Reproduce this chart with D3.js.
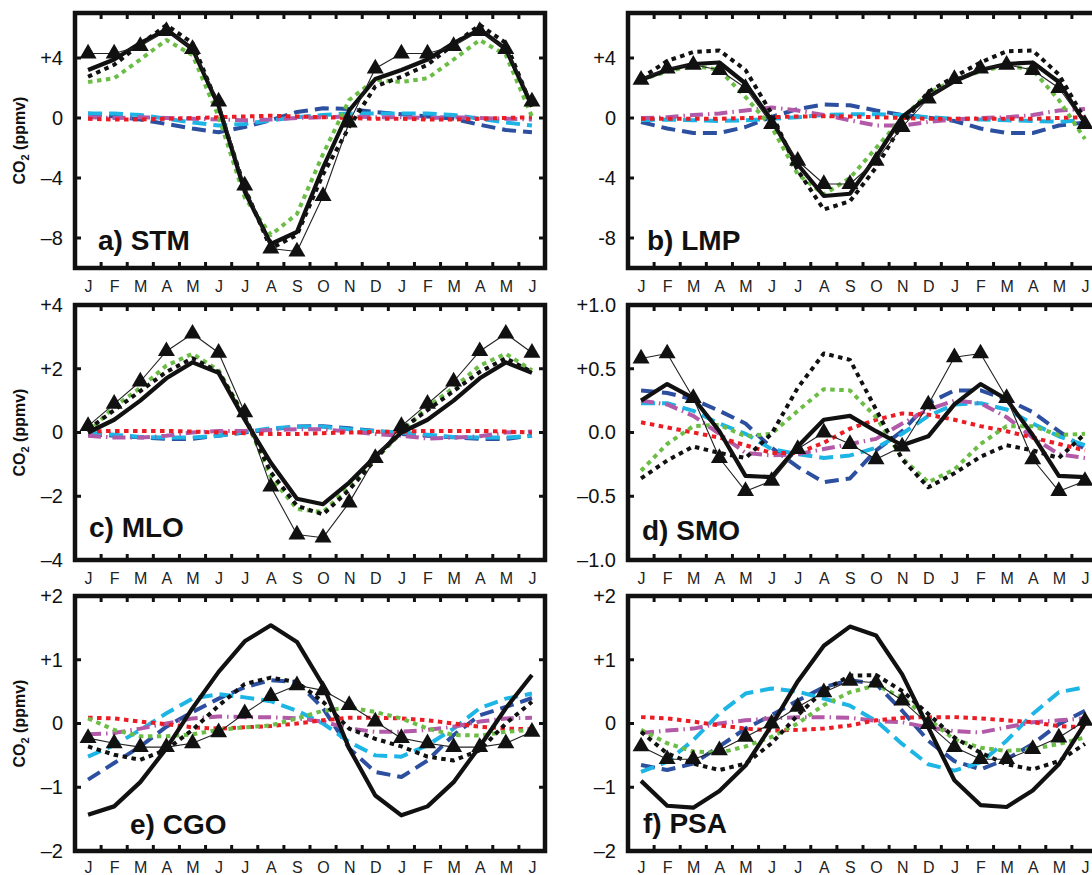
<!DOCTYPE html>
<html><head><meta charset="utf-8">
<script src="https://cdn.jsdelivr.net/npm/d3@7"></script>
<style>body{margin:0;background:#fff;overflow:hidden}</style>
</head><body>
<svg id="c" width="1092" height="875"></svg>
<script>
// ---------- categories ----------
const months = ["J","F","M","A","M","J","J","A","S","O","N","D","J","F","M","A","M","J"];

// ---------- a) STM ----------
const stmObs     = [4.3,4.3,4.8,5.8,4.6,1.1,-4.5,-8.7,-8.9,-5.2,-0.3,3.3,4.3,4.3,4.8,5.8,4.6,1.1];
const stmSolid   = [3.2,3.9,5.0,5.9,4.6,0.8,-4.9,-8.4,-7.6,-3.3,0.5,2.6,3.2,3.9,5.0,5.9,4.6,0.8];
const stmDotted  = [2.75,3.55,4.9,6.2,5.0,0.75,-4.65,-8.7,-7.8,-3.75,-0.6,2.1,2.75,3.55,4.9,6.2,5.0,0.75];
const stmGreen   = [2.4,2.65,3.9,5.2,4.2,0.1,-5.3,-7.8,-6.4,-2.4,1.2,2.55,2.4,2.65,3.9,5.2,4.2,0.1];
const stmBlue    = [0.3,0.1,-0.1,-0.4,-0.7,-0.95,-0.6,-0.15,0.4,0.65,0.6,0.4,0.25,0.1,-0.05,-0.45,-0.8,-0.95];
const stmCyan    = [0.3,0.3,0.2,-0.05,-0.3,-0.5,-0.4,-0.15,0.05,0.2,0.3,0.3,0.3,0.3,0.2,-0.05,-0.3,-0.5];
const stmMagenta = [0.05,0.0,0.05,0.0,-0.05,-0.1,-0.15,-0.1,0.0,0.05,0.1,0.05,0.05,0.0,0.05,0.0,-0.05,-0.1];
const stmRed     = [-0.05,-0.1,-0.1,-0.05,0.0,0.05,0.1,0.15,0.1,0.05,0.0,-0.05,-0.05,-0.1,-0.1,-0.05,0.0,0.05];

// ---------- b) LMP ----------
const lmpObs     = [2.55,3.3,3.55,3.2,2.0,-0.4,-2.85,-4.4,-4.4,-2.85,-0.6,1.3,2.6,3.3,3.55,3.2,2.0,-0.4];
const lmpSolid   = [2.55,3.2,3.6,3.7,2.3,-0.15,-3.1,-5.2,-5.05,-2.6,0.07,1.4,2.45,3.2,3.6,3.7,2.4,-0.35];
const lmpDotted  = [2.65,3.8,4.4,4.5,3.2,0.3,-3.5,-6.1,-5.55,-3.3,-0.4,1.75,2.75,3.7,4.45,4.5,2.9,-0.1];
const lmpGreen   = [2.55,3.1,3.5,3.2,1.4,-0.6,-3.75,-5.1,-4.0,-2.0,0.0,1.65,2.55,3.1,3.5,3.2,1.2,-1.4];
const lmpBlue    = [-0.27,-0.7,-1.0,-1.0,-0.6,0.07,0.6,0.9,0.85,0.5,0.2,0.02,-0.2,-0.7,-1.0,-1.0,-0.5,-0.3];
const lmpCyan    = [-0.15,-0.1,-0.15,-0.2,-0.15,-0.05,0.05,0.2,0.25,0.25,0.2,0.05,-0.05,-0.1,-0.15,-0.2,-0.25,-0.15];
const lmpMagenta = [0.0,0.05,0.2,0.3,0.5,0.7,0.5,0.2,-0.15,-0.5,-0.5,-0.27,-0.1,0.0,0.05,0.2,0.5,0.6];
const lmpRed     = [-0.05,-0.05,-0.05,-0.05,0.0,0.05,0.1,0.12,0.1,0.05,0.0,-0.05,-0.05,-0.05,-0.05,-0.05,0.0,0.05];

// ---------- c) MLO ----------
const mloObs     = [0.2,0.9,1.6,2.55,3.1,2.5,0.63,-1.7,-3.2,-3.3,-2.2,-0.8,0.2,0.9,1.6,2.55,3.1,2.5];
const mloSolid   = [0.0,0.4,1.0,1.7,2.2,1.87,0.4,-0.95,-2.08,-2.25,-1.57,-0.75,0.0,0.4,1.0,1.7,2.2,1.87];
const mloDotted  = [0.1,0.7,1.3,1.9,2.33,1.9,0.5,-1.25,-2.3,-2.57,-1.8,-0.85,0.1,0.7,1.3,1.9,2.33,1.9];
const mloGreen   = [0.0,0.8,1.4,2.1,2.47,1.95,0.5,-1.4,-2.4,-2.5,-1.7,-0.85,0.0,0.8,1.4,2.1,2.47,1.95];
const mloBlue    = [-0.05,-0.1,-0.15,-0.2,-0.2,-0.1,0.0,0.1,0.19,0.2,0.13,0.05,-0.05,-0.1,-0.15,-0.2,-0.2,-0.1];
const mloCyan    = [0.0,-0.07,-0.14,-0.16,-0.16,-0.1,0.02,0.13,0.18,0.18,0.1,0.04,0.0,-0.07,-0.14,-0.16,-0.16,-0.1];
const mloMagenta = [-0.1,-0.16,-0.16,-0.1,0.0,0.05,0.05,0.08,0.1,0.1,0.03,-0.05,-0.1,-0.19,-0.16,-0.12,0.0,0.03];
const mloRed     = [0.03,0.05,0.05,0.05,0.03,0.0,-0.02,-0.05,-0.05,-0.02,0.0,0.02,0.03,0.05,0.05,0.05,0.03,0.0];

// ---------- d) SMO ----------
const smoObs     = [0.58,0.62,0.27,-0.2,-0.46,-0.38,-0.13,0.0,-0.09,-0.21,-0.11,0.22,0.59,0.62,0.27,-0.21,-0.46,-0.38];
const smoSolid   = [0.25,0.38,0.27,0.01,-0.34,-0.35,-0.11,0.1,0.13,0.01,-0.1,-0.03,0.22,0.38,0.26,-0.02,-0.34,-0.35];
const smoDotted  = [-0.36,-0.22,-0.11,-0.16,-0.2,-0.01,0.35,0.62,0.57,0.18,-0.21,-0.43,-0.32,-0.19,-0.1,-0.14,-0.2,-0.01];
const smoGreen   = [-0.3,-0.09,0.05,0.06,-0.03,-0.01,0.17,0.34,0.33,0.12,-0.2,-0.39,-0.29,-0.09,0.05,0.05,-0.02,-0.01];
const smoBlue    = [0.33,0.31,0.26,0.17,0.07,-0.12,-0.27,-0.39,-0.36,-0.14,0.01,0.23,0.33,0.33,0.26,0.16,0.01,-0.13];
const smoCyan    = [0.23,0.23,0.17,0.07,-0.01,-0.13,-0.17,-0.2,-0.18,-0.12,-0.01,0.13,0.22,0.23,0.18,0.07,-0.03,-0.1];
const smoMagenta = [0.25,0.22,0.13,-0.01,-0.16,-0.18,-0.17,-0.13,-0.09,-0.05,0.07,0.18,0.25,0.23,0.12,-0.04,-0.17,-0.2];
const smoRed     = [0.08,0.04,0.0,-0.04,-0.1,-0.16,-0.16,-0.08,0.03,0.1,0.15,0.14,0.1,0.05,0.01,-0.04,-0.09,-0.14];

// ---------- e) CGO ----------
const cgoObs     = [-0.23,-0.31,-0.37,-0.37,-0.31,-0.14,0.16,0.43,0.6,0.52,0.29,0.03,-0.23,-0.31,-0.37,-0.37,-0.31,-0.13];
const cgoSolid   = [-1.43,-1.3,-0.92,-0.39,0.24,0.81,1.29,1.54,1.28,0.6,-0.39,-1.13,-1.44,-1.3,-0.92,-0.36,0.24,0.76];
const cgoDotted  = [-0.36,-0.49,-0.57,-0.41,-0.1,0.28,0.62,0.72,0.65,0.34,-0.08,-0.24,-0.36,-0.52,-0.58,-0.42,0.0,0.34];
const cgoGreen   = [0.08,-0.1,-0.2,-0.2,-0.17,-0.1,-0.06,-0.03,0.08,0.2,0.25,0.18,0.08,-0.08,-0.18,-0.19,-0.13,-0.1];
const cgoBlue    = [-0.88,-0.62,-0.36,-0.05,0.18,0.39,0.57,0.68,0.65,0.24,-0.39,-0.76,-0.84,-0.58,-0.18,0.13,0.26,0.4];
const cgoCyan    = [-0.52,-0.34,-0.1,0.16,0.39,0.46,0.41,0.35,0.2,0.0,-0.29,-0.5,-0.52,-0.34,-0.08,0.24,0.39,0.47];
const cgoMagenta = [-0.17,-0.15,-0.08,0.0,0.08,0.11,0.1,0.1,0.08,0.03,-0.08,-0.13,-0.13,-0.1,-0.05,0.03,0.08,0.09];
const cgoRed     = [0.09,0.08,0.03,-0.01,-0.06,-0.08,-0.06,-0.04,0.0,0.05,0.09,0.09,0.08,0.05,0.0,-0.05,-0.08,-0.09];

// ---------- f) PSA ----------
const psaObs     = [-0.36,-0.56,-0.56,-0.42,-0.21,0.0,0.26,0.49,0.67,0.64,0.36,-0.01,-0.37,-0.56,-0.56,-0.4,-0.22,0.04];
const psaSolid   = [-0.9,-1.29,-1.32,-1.06,-0.66,-0.03,0.66,1.22,1.52,1.38,0.77,-0.06,-0.89,-1.28,-1.31,-1.05,-0.64,0.0];
const psaDotted  = [-0.13,-0.47,-0.63,-0.73,-0.63,-0.31,0.13,0.52,0.75,0.76,0.51,0.15,-0.22,-0.46,-0.64,-0.72,-0.59,-0.32];
const psaGreen   = [-0.1,-0.31,-0.44,-0.46,-0.36,-0.21,0.0,0.29,0.49,0.6,0.41,0.07,-0.25,-0.38,-0.43,-0.4,-0.32,-0.22];
const psaBlue    = [-0.65,-0.73,-0.63,-0.36,-0.08,0.13,0.36,0.57,0.68,0.62,0.2,-0.27,-0.59,-0.72,-0.56,-0.32,-0.01,0.2];
const psaCyan    = [-0.76,-0.6,-0.26,0.16,0.47,0.55,0.5,0.39,0.28,0.04,-0.32,-0.64,-0.74,-0.61,-0.27,0.15,0.49,0.57];
const psaMagenta = [-0.15,-0.11,-0.08,0.0,0.05,0.08,0.1,0.1,0.09,0.04,0.02,-0.06,-0.12,-0.14,-0.06,0.02,0.05,0.08];
const psaRed     = [0.1,0.08,0.03,-0.03,-0.08,-0.11,-0.1,-0.08,-0.03,0.05,0.09,0.1,0.1,0.08,0.05,0.02,-0.04,-0.06];

// ---------- tick values / labels ----------
const stmTicks = [4,0,-4,-8],        stmTickLabels = ["+4","0","\u20134","\u20138"];
const lmpTicks = [4,0,-4,-8],        lmpTickLabels = ["+4","0","-4","-8"];
const mloTicks = [4,2,0,-2,-4],      mloTickLabels = ["+4","+2","0","\u20132","\u20134"];
const smoTicks = [1,0.5,0,-0.5,-1],  smoTickLabels = ["+1.0","+0.5","0.0","\u20130.5","\u20131.0"];
const cgoTicks = [2,1,0,-1,-2],      cgoTickLabels = ["+2","+1","0","\u20131","\u20132"];
const psaTicks = [2,1,0,-1,-2],      psaTickLabels = ["+2","+1","0","\u20131","\u20132"];

// ---------- layout & styles ----------
const W = 470, H = 255;
const colX = [75, 628], rowY = [13, 305, 596];
const FONT = "'Liberation Sans', Arial, Helvetica, sans-serif";

const panels = [
  {title:"a) STM", col:0,row:0, dom:[-10,7], ticks:stmTicks, labels:stmTickLabels, ylab:true, tx:23, ty:237,
   s:{obs:stmObs,solid:stmSolid,dotted:stmDotted,green:stmGreen,blue:stmBlue,cyan:stmCyan,magenta:stmMagenta,red:stmRed}},
  {title:"b) LMP", col:1,row:0, dom:[-10,7], ticks:lmpTicks, labels:lmpTickLabels, ylab:false, tx:19, ty:237,
   s:{obs:lmpObs,solid:lmpSolid,dotted:lmpDotted,green:lmpGreen,blue:lmpBlue,cyan:lmpCyan,magenta:lmpMagenta,red:lmpRed}},
  {title:"c) MLO", col:0,row:1, dom:[-4,4], ticks:mloTicks, labels:mloTickLabels, ylab:true, tx:14, ty:232,
   s:{obs:mloObs,solid:mloSolid,dotted:mloDotted,green:mloGreen,blue:mloBlue,cyan:mloCyan,magenta:mloMagenta,red:mloRed}},
  {title:"d) SMO", col:1,row:1, dom:[-1,1], ticks:smoTicks, labels:smoTickLabels, ylab:false, tx:14, ty:235,
   s:{obs:smoObs,solid:smoSolid,dotted:smoDotted,green:smoGreen,blue:smoBlue,cyan:smoCyan,magenta:smoMagenta,red:smoRed}},
  {title:"e) CGO", col:0,row:2, dom:[-2,2], ticks:cgoTicks, labels:cgoTickLabels, ylab:true, tx:55, ty:238,
   s:{obs:cgoObs,solid:cgoSolid,dotted:cgoDotted,green:cgoGreen,blue:cgoBlue,cyan:cgoCyan,magenta:cgoMagenta,red:cgoRed}},
  {title:"f) PSA", col:1,row:2, dom:[-2,2], ticks:psaTicks, labels:psaTickLabels, ylab:false, tx:15, ty:237,
   s:{obs:psaObs,solid:psaSolid,dotted:psaDotted,green:psaGreen,blue:psaBlue,cyan:psaCyan,magenta:psaMagenta,red:psaRed}}
];

const styles = [
  {key:"blue",    color:"#2c4f9f", w:4,   dash:"14,7"},
  {key:"cyan",    color:"#1db5e5", w:4,   dash:"14,7"},
  {key:"magenta", color:"#b25aa8", w:4,   dash:"13,5,1.5,5"},
  {key:"red",     color:"#ec1c24", w:4,   dash:"4.5,4.5"},
  {key:"green",   color:"#6bbd45", w:4,   dash:"4.5,4.5"},
  {key:"dotted",  color:"#111111", w:4,   dash:"4.5,4.5"},
  {key:"solid",   color:"#111111", w:4.2, dash:null},
  {key:"obs",     color:"#222222", w:1.1, dash:null}
];

const svg = d3.select("#c");
svg.append("rect").attr("width",1092).attr("height",875).attr("fill","#fff");

panels.forEach(p => {
  const x0 = colX[p.col], y0 = rowY[p.row];
  const g = svg.append("g").attr("transform",`translate(${x0},${y0})`);
  const x = d3.scaleLinear().domain([0.5,18.5]).range([0,W]);
  const y = d3.scaleLinear().domain(p.dom).range([H,0]);

  const cid = "clip" + p.col + p.row;
  g.append("clipPath").attr("id",cid).append("rect").attr("x",0).attr("y",0).attr("width",W).attr("height",H);

  // y axis labels
  const ya = d3.axisLeft(y).tickValues(p.ticks).tickSize(0).tickPadding(12)
               .tickFormat((d,i)=>p.labels[i]);
  const yg = g.append("g").call(ya);
  yg.select(".domain").remove();
  yg.selectAll("text").attr("font-family",FONT).attr("font-size",20).attr("fill","#111");

  // x axis labels
  const xa = d3.axisBottom(x).tickValues(d3.range(1,19)).tickSize(0).tickPadding(p.row===2 ? 11 : 13)
               .tickFormat(d=>months[d-1]);
  const xg = g.append("g").attr("transform",`translate(0,${H})`).call(xa);
  xg.select(".domain").remove();
  xg.selectAll("text").attr("font-family",FONT).attr("font-size",16).attr("fill","#222");

  // series
  const plot = g.append("g").attr("clip-path",`url(#${cid})`);
  const line = d3.line().x((d,i)=>x(i+1)).y(d=>y(d));
  styles.forEach(st => {
    const path = plot.append("path").datum(p.s[st.key]).attr("d",line)
      .attr("fill","none").attr("stroke",st.color).attr("stroke-width",st.w)
      .attr("stroke-linejoin","round").attr("stroke-linecap","butt");
    if (st.dash) path.attr("stroke-dasharray",st.dash);
  });
  const tri = d3.symbol().type(d3.symbolTriangle).size(125);
  plot.selectAll("path.tri").data(p.s.obs).join("path").attr("class","tri")
    .attr("d",tri).attr("transform",(d,i)=>`translate(${x(i+1)},${y(d)})`)
    .attr("fill","#111");

  // frame ticks
  const tk = g.append("g").attr("stroke","#111").attr("stroke-width",3);
  d3.range(1,18).forEach(k => {
    const xx = x(k+0.5);
    tk.append("line").attr("x1",xx).attr("x2",xx).attr("y1",0).attr("y2",6);
    tk.append("line").attr("x1",xx).attr("x2",xx).attr("y1",H).attr("y2",H-6);
  });
  p.ticks.forEach(v => {
    const yy = y(v);
    tk.append("line").attr("x1",-2).attr("x2",6).attr("y1",yy).attr("y2",yy);
    tk.append("line").attr("x1",W+2).attr("x2",W-6).attr("y1",yy).attr("y2",yy);
  });

  // frame
  g.append("rect").attr("x",0).attr("y",0).attr("width",W).attr("height",H)
    .attr("fill","none").attr("stroke","#111").attr("stroke-width",4.5);

  // title
  g.append("text").attr("x",p.tx).attr("y",p.ty).text(p.title)
    .attr("font-family",FONT).attr("font-weight","bold").attr("font-size",28).attr("fill","#111");

  // y label
  if (p.ylab) {
    const t = svg.append("text").attr("transform",`translate(25,${y0+H/2}) rotate(-90)`)
      .attr("text-anchor","middle").attr("font-family",FONT).attr("font-weight","bold")
      .attr("font-size",16).attr("fill","#111");
    t.append("tspan").text("CO");
    t.append("tspan").text("2").attr("font-size",11).attr("dy",4);
    t.append("tspan").text(" (ppmv)").attr("dy",-4);
  }
});
</script>
</body></html>
